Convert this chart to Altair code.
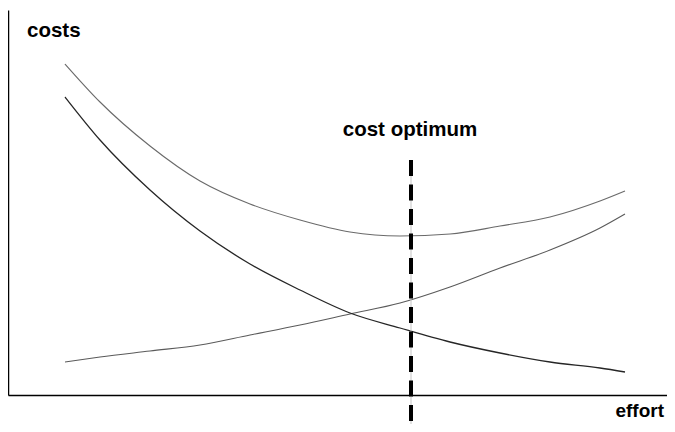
import altair as alt
import pandas as pd

# effort (arbitrary units) and cost values
effort = [0, 7, 17, 27, 37, 47, 57, 67, 77, 87, 97, 107, 112]
failure_costs = [59.6, 51.0, 41.0, 32.8, 26.2, 21.0, 16.4, 13.4, 10.6, 8.4, 6.6, 5.4, 4.6]
prevention_costs = [6.6, 7.6, 8.8, 10.0, 12.0, 14.0, 16.2, 18.4, 21.6, 25.4, 29.0, 33.4, 36.2]
total_costs = [66.2, 58.6, 49.8, 42.8, 38.2, 35.0, 32.6, 31.8, 32.2, 33.8, 35.6, 38.8, 40.8]
optimum_effort = [69.2]

x_domain = [-11.4, 120.4]
y_domain = [0, 77]

rows = []
for e, a, b, c in zip(effort, failure_costs, prevention_costs, total_costs):
    rows.append({"effort": e, "cost": a, "series": "failure"})
    rows.append({"effort": e, "cost": b, "series": "prevention"})
    rows.append({"effort": e, "cost": c, "series": "total"})
df = pd.DataFrame(rows)
opt = pd.DataFrame({"effort": optimum_effort})

xs = alt.Scale(domain=x_domain, nice=False, zero=False)
ys = alt.Scale(domain=y_domain, nice=False, zero=False)

x_axis = alt.Axis(labels=False, ticks=False, grid=False, title=None,
                  domainColor="#000", domainWidth=1.5)
y_axis = alt.Axis(labels=False, ticks=False, grid=False, title=None,
                  domainColor="#000", domainWidth=1.5)

base = alt.Chart(df)

def curve(name, color, width):
    return base.transform_filter(alt.datum.series == name).mark_line(
        color=color, strokeWidth=width, interpolate="monotone"
    ).encode(
        x=alt.X("effort:Q", scale=xs, axis=x_axis),
        y=alt.Y("cost:Q", scale=ys, axis=y_axis),
    )

total_line = curve("total", "#6a6a6a", 1.1)
prev_line = curve("prevention", "#5a5a5a", 1.1)
fail_line = curve("failure", "#262626", 1.3)

gray_rule = alt.Chart(opt).mark_rule(color="#c4c4c4", strokeWidth=1).encode(
    x=alt.X("effort:Q", scale=xs), y=alt.value(150), y2=alt.value(416)
)
dash_rule = alt.Chart(opt).mark_rule(color="#000", strokeWidth=4, strokeDash=[16, 8.5]).encode(
    x=alt.X("effort:Q", scale=xs), y=alt.value(150), y2=alt.value(416)
)

opt_label = alt.Chart(opt).mark_text(
    text="cost optimum", font="Liberation Sans", fontWeight="bold", fontSize=20.5,
    align="center", baseline="alphabetic", dx=-1
).encode(x=alt.X("effort:Q", scale=xs), y=alt.value(126))

costs_label = alt.Chart(opt).mark_text(
    text="costs", font="Liberation Sans", fontWeight="bold", fontSize=20.5,
    align="left", baseline="alphabetic"
).encode(x=alt.value(19), y=alt.value(27))

effort_label = alt.Chart(opt).mark_text(
    text="effort", font="Liberation Sans", fontWeight="bold", fontSize=19,
    align="right", baseline="alphabetic"
).encode(x=alt.value(656), y=alt.value(407))

chart = alt.layer(
    total_line, prev_line, fail_line, gray_rule, dash_rule,
    opt_label, costs_label, effort_label
).properties(
    width=659, height=385,
    autosize=alt.AutoSizeParams(type="none"),
    padding={"left": 0, "top": 2, "right": 0, "bottom": 29},
    background="white",
).configure_view(stroke=None)

chart.save("out.html", embed_options={"renderer": "svg", "actions": False})
